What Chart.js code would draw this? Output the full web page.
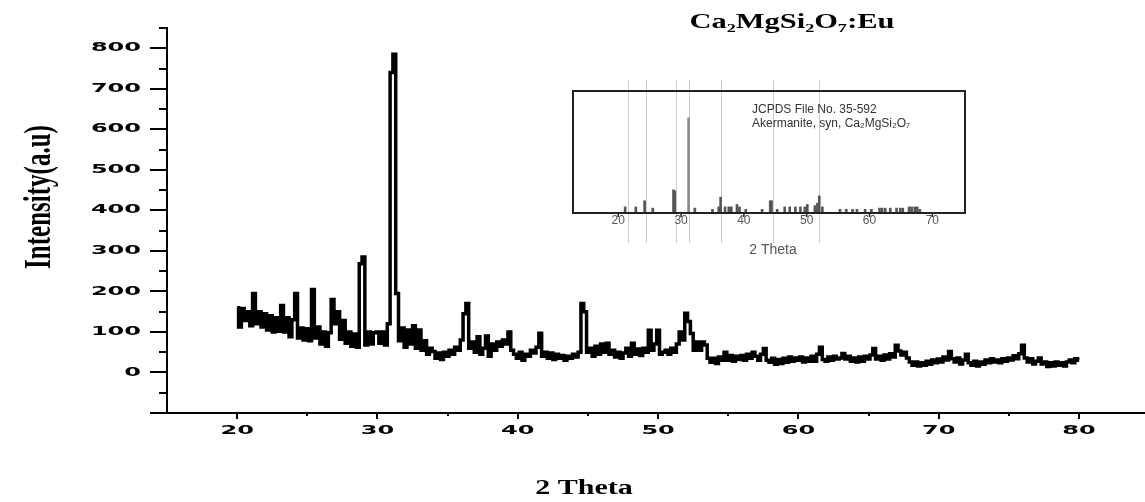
<!DOCTYPE html>
<html>
<head>
<meta charset="utf-8">
<script src="https://cdn.jsdelivr.net/npm/chart.js@4.4.1/dist/chart.umd.min.js"></script>
<style>
  body { margin: 0; background: #fff; }
  #wrap { position: relative; width: 1145px; height: 502px; }
  #inset { position: absolute; left: 540px; top: 60px; }
</style>
</head>
<body>
<div id="wrap">
  <canvas id="xrd" width="1145" height="502"></canvas>
  <canvas id="inset" width="460" height="210"></canvas>
</div>
<script>
// scan: 20 -> 80 deg, 0.2 deg step
const scanStart = 20;
const scanStep = 0.2;
const intensity = [
  160, 112, 158, 128, 150, 115, 195, 120, 150, 112,
  145, 105, 140, 100, 135, 102, 165, 100, 135, 88,
  130, 195, 85, 110, 80, 108, 78, 205, 85, 112,
  70, 100, 65, 98, 180, 120, 150, 82, 128, 72,
  100, 65, 95, 62, 268, 285, 68, 100, 70, 98,
  100, 72, 100, 68, 120, 740, 785, 195, 78, 110,
  62, 105, 70, 115, 60, 105, 55, 78, 45, 60,
  52, 35, 48, 32, 50, 40, 55, 45, 62, 55,
  80, 145, 170, 60, 75, 50, 88, 45, 60, 90,
  40, 70, 55, 75, 65, 80, 70, 100, 55, 45,
  35, 50, 30, 45, 40, 55, 48, 62, 97, 40,
  50, 35, 48, 32, 45, 35, 42, 30, 40, 35,
  45, 38, 50, 170, 150, 50, 60, 40, 65, 45,
  70, 50, 72, 45, 55, 38, 50, 35, 48, 60,
  40, 72, 45, 58, 42, 60, 50, 104, 55, 70,
  104, 45, 50, 55, 45, 60, 50, 70, 100, 80,
  146, 126, 96, 55, 75, 55, 75, 68, 35, 25,
  35, 22, 38, 30, 50, 30, 42, 28, 40, 32,
  42, 30, 45, 35, 50, 40, 30, 45, 59, 30,
  25, 35, 20, 32, 22, 35, 25, 38, 28, 36,
  30, 38, 26, 36, 28, 40, 28, 45, 62, 32,
  28, 38, 30, 40, 33, 36, 47, 33, 40, 28,
  36, 26, 38, 28, 40, 33, 43, 59, 33, 40,
  30, 43, 33, 46, 38, 67, 53, 43, 50, 36,
  26, 18, 26, 16, 24, 18, 28, 20, 31, 24,
  33, 26, 38, 31, 52, 34, 26, 36, 21, 31,
  45, 24, 18, 28, 16, 26, 20, 31, 24, 34,
  26, 31, 24, 34, 28, 36, 31, 41, 34, 46,
  67, 36, 26, 34, 21, 28, 36, 21, 26, 15,
  24, 16, 26, 18, 24, 16, 26, 31, 24, 34,
  30
];
const twoTheta = intensity.map((_, i) => +(scanStart + i * scanStep).toFixed(1));

const xTickLabels = [20, 30, 40, 50, 60, 70, 80];
const yTickLabels = [0, 100, 200, 300, 400, 500, 600, 700, 800];

// JCPDS 35-592 reference sticks (inset)
const refAngles = [21.1, 22.8, 24.2, 25.5, 28.8, 29.0, 31.2, 32.2, 35.0, 36.0,
  36.3, 37.0, 37.6, 38.0, 38.9, 39.3, 40.3, 42.9, 44.2, 44.4,
  45.3, 46.5, 47.3, 48.2, 49.0, 49.7, 50.1, 51.3, 51.7, 52.0,
  52.5, 55.3, 56.3, 57.3, 58.0, 59.3, 60.3, 61.6, 62.0, 62.5,
  63.3, 64.3, 64.9, 65.3, 66.3, 66.7, 67.2, 67.6, 68.0];
const refHeights = [5, 5, 10, 4, 19, 18, 78, 4, 3, 5,
  13, 5, 5, 5, 7, 5, 3, 3, 10, 10,
  3, 5, 5, 5, 5, 5, 7, 6, 8, 14,
  5, 3, 3, 3, 3, 3, 3, 4, 4, 4,
  4, 4, 4, 4, 5, 5, 5, 5, 3];
const refMarkers = [21.5, 24.4, 29.2, 31.2, 36.3, 44.7, 52.0];
const insetTicks = [20, 30, 40, 50, 60, 70];

function wideText(ctx, text, x, y, sx, align) {
  ctx.save();
  ctx.translate(x, y);
  ctx.scale(sx, 1);
  ctx.textAlign = align;
  ctx.fillText(text, 0, 0);
  ctx.restore();
}

const axesDecor = {
  id: 'axesDecor',
  afterDraw(chart) {
    const { ctx, chartArea, scales: { x, y } } = chart;
    ctx.save();
    ctx.strokeStyle = '#000';
    ctx.fillStyle = '#000';
    ctx.lineWidth = 2;
    // y ticks
    for (let v = -100; v <= 800; v += 100) {
      const py = Math.round(y.getPixelForValue(v));
      ctx.beginPath(); ctx.moveTo(chartArea.left - 17, py); ctx.lineTo(chartArea.left, py); ctx.stroke();
    }
    for (let v = -50; v <= 850; v += 100) {
      const py = Math.round(y.getPixelForValue(v));
      ctx.beginPath(); ctx.moveTo(chartArea.left - 8, py); ctx.lineTo(chartArea.left, py); ctx.stroke();
    }
    // x ticks
    xTickLabels.forEach(v => {
      const px = Math.round(x.getPixelForValue(v));
      ctx.beginPath(); ctx.moveTo(px, chartArea.bottom); ctx.lineTo(px, chartArea.bottom + 6); ctx.stroke();
    });
    for (let v = 25; v <= 75; v += 10) {
      const px = Math.round(x.getPixelForValue(v));
      ctx.beginPath(); ctx.moveTo(px, chartArea.bottom); ctx.lineTo(px, chartArea.bottom + 3); ctx.stroke();
    }
    // tick labels
    ctx.font = 'bold 12px "DejaVu Sans"';
    ctx.textBaseline = 'middle';
    yTickLabels.forEach(v => wideText(ctx, String(v), 141, y.getPixelForValue(v), 2, 'right'));
    xTickLabels.forEach(v => wideText(ctx, String(v), x.getPixelForValue(v), 431, 2, 'center'));
    // titles
    ctx.font = 'bold 21px "Liberation Serif"';
    wideText(ctx, 'Ca₂MgSi₂O₇:Eu', 792, 23, 1.45, 'center');
    ctx.font = 'bold 20px "Liberation Serif"';
    wideText(ctx, '2 Theta', 584, 489, 1.5, 'center');
    ctx.save();
    ctx.translate(40, 197);
    ctx.scale(1.5, 1);
    ctx.rotate(-Math.PI / 2);
    ctx.font = 'bold 25px "Liberation Serif"';
    ctx.textAlign = 'center';
    ctx.fillText('Intensity(a.u)', 0, 0);
    ctx.restore();
    ctx.restore();
  }
};

new Chart(document.getElementById('xrd'), {
  type: 'line',
  data: {
    datasets: [{
      data: twoTheta.map((t, i) => ({ x: t, y: intensity[i] })),
      borderColor: '#000',
      borderWidth: 3.5,
      pointRadius: 0,
      stepped: 'middle',
      fill: false
    }]
  },
  options: {
    responsive: false,
    animation: false,
    events: [],
    layout: { padding: { left: 167, right: 0, top: 28, bottom: 89 } },
    plugins: { legend: { display: false }, tooltip: { enabled: false } },
    scales: {
      x: {
        type: 'linear', min: 15, max: 84.7,
        grid: { display: false, drawTicks: false },
        ticks: { display: false },
        border: { display: true, color: '#000', width: 2 }
      },
      y: {
        min: -100, max: 850,
        grid: { display: false, drawTicks: false },
        ticks: { display: false },
        border: { display: true, color: '#000', width: 2 }
      }
    }
  },
  plugins: [axesDecor]
});

const insetDecor = {
  id: 'insetDecor',
  beforeDatasetsDraw(chart) {
    const { ctx, scales: { x } } = chart;
    ctx.save();
    ctx.strokeStyle = 'rgba(150,165,190,0.55)';
    ctx.lineWidth = 1;
    refMarkers.forEach(v => {
      const px = Math.round(x.getPixelForValue(v)) + 0.5;
      ctx.beginPath(); ctx.moveTo(px, 20); ctx.lineTo(px, 183); ctx.stroke();
    });
    ctx.restore();
  },
  afterDraw(chart) {
    const { ctx, chartArea: a, scales: { x } } = chart;
    ctx.save();
    ctx.strokeStyle = '#222';
    ctx.lineWidth = 2;
    ctx.strokeRect(a.left, a.top, a.right - a.left, a.bottom - a.top);
    ctx.lineWidth = 1.5;
    insetTicks.forEach(v => {
      const px = x.getPixelForValue(v);
      ctx.beginPath(); ctx.moveTo(px, a.bottom); ctx.lineTo(px, a.bottom + 4); ctx.stroke();
    });
    ctx.fillStyle = '#555';
    ctx.font = '12px "Liberation Sans"';
    ctx.textAlign = 'center';
    ctx.textBaseline = 'middle';
    insetTicks.forEach(v => ctx.fillText(String(v), x.getPixelForValue(v), 161));
    ctx.font = '14px "Liberation Sans"';
    ctx.fillText('2 Theta', 233, 190);
    ctx.fillStyle = '#333';
    ctx.font = '12px "Liberation Sans"';
    ctx.textAlign = 'left';
    ctx.fillText('JCPDS File No. 35-592', 212, 50);
    ctx.fillText('Akermanite, syn, Ca₂MgSi₂O₇', 212, 64);
    ctx.restore();
  }
};

new Chart(document.getElementById('inset'), {
  type: 'bar',
  data: {
    datasets: [{
      data: refAngles.map((t, i) => ({ x: t, y: refHeights[i] })),
      backgroundColor: ctx => (refHeights[ctx.dataIndex] > 50 ? '#8a8a8a' : '#555'),
      barThickness: 2
    }]
  },
  options: {
    responsive: false,
    animation: false,
    events: [],
    layout: { padding: { left: 33, right: 35, top: 31, bottom: 57 } },
    plugins: { legend: { display: false }, tooltip: { enabled: false } },
    scales: {
      x: {
        type: 'linear', min: 18, max: 70,
        grid: { display: false, drawTicks: false },
        ticks: { display: false },
        border: { display: false }
      },
      y: {
        min: 0, max: 100,
        grid: { display: false, drawTicks: false },
        ticks: { display: false },
        border: { display: false }
      }
    }
  },
  plugins: [insetDecor]
});
</script>
</body>
</html>
